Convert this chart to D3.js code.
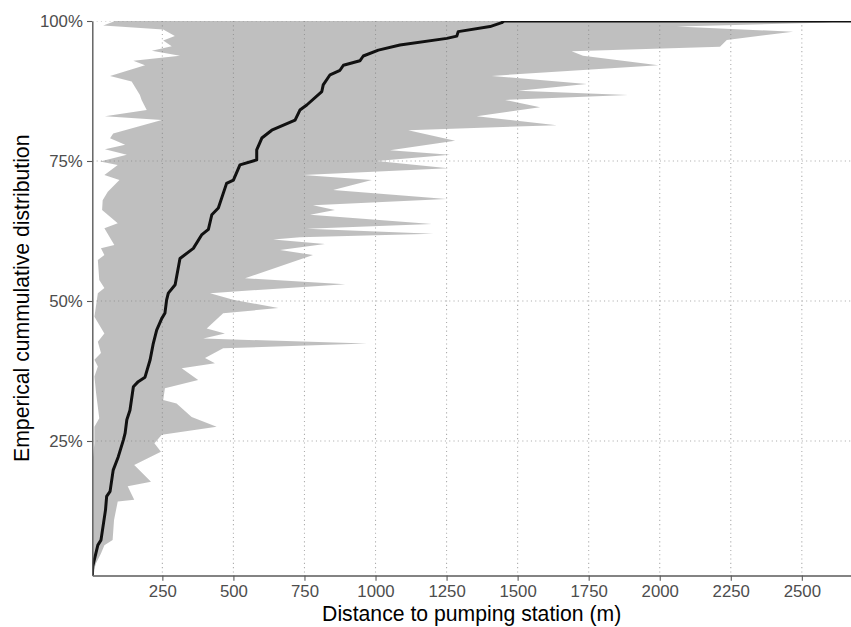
<!DOCTYPE html>
<html>
<head>
<meta charset="utf-8">
<script src="https://cdn.jsdelivr.net/npm/d3@7"></script>
<style>
  html, body { margin: 0; padding: 0; background: #fff; }
  svg text { font-family: "Liberation Sans", Arial, sans-serif; }
</style>
</head>
<body>
<svg id="chart" width="851" height="627"></svg>
<script>
// ---- data (distance in m, probability in %) ----
const xTicks = [250, 500, 750, 1000, 1250, 1500, 1750, 2000, 2250, 2500];
const yTicks = [0.25, 0.5, 0.75, 1];

// empirical CDF line (last point is the +Inf padding at 100%)
const ecdfDist = [4,5,23,34,50,54,66,77,95,113,119,125,136,148,165,189,207,218,230,248,259,265,271,295,312,359,388,412,424,447,476,500,523,582,582,600,635,717,734,758,811,816,840,875,887,945,957,1010,1086,1251,1286,1291,1403,1444,1452,3000];
const ecdfProb = [1.0,2.6,6.4,7.3,12.7,15.1,16.0,19.8,22.2,25.2,26.4,28.8,30.5,34.7,35.6,36.4,39.5,42.4,44.8,46.9,47.8,50.2,51.4,52.9,57.6,59.4,61.8,62.8,65.4,66.6,71.0,71.6,74.3,75.2,77.0,79.1,80.5,82.3,84.1,85.0,87.4,88.6,90.4,91.2,92.1,92.9,93.75,94.8,95.7,96.9,97.3,98.1,99.0,99.7,100,100];

// ribbon upper bound (max distance), top to bottom
const hiProb = [100,99.7,99.0,98.1,96.6,95.4,94.6,93.8,92.1,90.2,88.75,87.55,86.8,85.9,84.6,83.0,81.4,80.5,78.6,76.9,76.1,75.0,73.7,72.5,71.6,69.8,68.2,67.1,66.25,65.4,63.75,62.9,62.0,61.4,61.0,60.2,59.1,58.2,54.05,53.0,51.4,50.2,48.75,47.8,45.1,44.2,43.3,42.4,41.55,39.8,38.9,38.0,35.9,34.4,32.3,31.7,29.3,27.55,26.1,24.6,23.1,20.7,17.7,16.9,14.5,14.2,10.9,7.3,6.4,4.9,3.2,1.0];
const hiDist = [2670,2564,2060,2469,2236,2212,1690,1730,1995,1409,1743,1502,1889,1456,1579,1356,1638,1115,1280,1051,1262,1004,1256,745,987,851,1250,780,857,770,1198,758,1203,734,640,822,664,780,541,893,418,499,658,464,406,470,394,969,464,400,435,318,376,259,253,300,353,441,248,222,245,151,210,128,151,93,80,75,46,34,17,3.5];

// ribbon lower bound (min distance), top to bottom
const loProb = [100,99.2,98.5,97.3,96.5,95.5,94.7,93.8,92.9,92.1,90.2,89.2,86.8,85.9,84.1,83.0,82.3,79.9,79.05,77.9,77.1,76.1,74.9,74.3,72.5,71.6,69.5,68.0,66.25,63.9,63.0,60.0,59.4,58.2,57.3,53.75,52.3,51.4,47.2,44.2,42.7,40.7,39.5,38.3,36.5,33.5,29.05,27.55,24.6,21.6,1.0];
const loDist = [84,42,253,294,253,283,213,312,148,189,66,142,171,177,195,48,248,77,66,119,48,125,31,93,46,99,58,40,38,93,46,81,34,46,23,28,46,23,11,46,23,34,11,23,11,17,28,11,11,5,4];

// ---- layout ----
const panel = { left: 92.3, right: 851, top: 21, bottom: 575.5 };

const svg = d3.select("#chart");
const x = d3.scaleLinear().domain([3.5, 2673]).range([panel.left, panel.right]);
const y = d3.scaleLinear().domain([0.0098, 1]).range([panel.bottom, panel.top]);

svg.append("defs").append("clipPath").attr("id", "clip")
  .append("rect")
  .attr("x", panel.left).attr("y", panel.top)
  .attr("width", panel.right - panel.left).attr("height", panel.bottom - panel.top);

// grid
const grid = svg.append("g").attr("clip-path", "url(#clip)");
grid.selectAll("line.vx").data(xTicks).join("line")
  .attr("x1", d => x(d)).attr("x2", d => x(d))
  .attr("y1", panel.top).attr("y2", panel.bottom)
  .attr("stroke", "#adadad").attr("stroke-width", 1.1)
  .attr("stroke-dasharray", "1.1,3.2");
grid.selectAll("line.hy").data(yTicks).join("line")
  .attr("y1", d => y(d)).attr("y2", d => y(d))
  .attr("x1", panel.left).attr("x2", panel.right)
  .attr("stroke", "#adadad").attr("stroke-width", 1.1)
  .attr("stroke-dasharray", "1.1,3.2");

// ribbon
const hiPts = hiProb.map((p, i) => ({ p: p / 100, d: hiDist[i] }));
const loPts = loProb.map((p, i) => ({ p: p / 100, d: loDist[i] })).reverse();
const poly = hiPts.concat(loPts);
const lineGen = d3.line().x(d => x(d.d)).y(d => y(d.p));
const plot = svg.append("g").attr("clip-path", "url(#clip)");
plot.append("path")
  .attr("d", lineGen(poly) + "Z")
  .attr("fill", "#808080").attr("fill-opacity", 0.5).attr("stroke", "none");

// ecdf line
const ecdfPts = ecdfProb.map((p, i) => ({ p: p / 100, d: ecdfDist[i] }));
plot.append("path")
  .attr("d", lineGen(ecdfPts))
  .attr("fill", "none").attr("stroke", "#111")
  .attr("stroke-width", 3).attr("stroke-linejoin", "round").attr("stroke-linecap", "butt");

// axes
const axisColor = "#5a5a5a";
const gx = svg.append("g").attr("transform", `translate(0,${panel.bottom})`)
  .call(d3.axisBottom(x).tickValues(xTicks).tickSize(5.3).tickSizeOuter(0).tickPadding(4.2).tickFormat(d3.format("d")));
const gy = svg.append("g").attr("transform", `translate(${panel.left},0)`)
  .call(d3.axisLeft(y).tickValues(yTicks).tickSize(5.3).tickSizeOuter(0).tickPadding(4.2).tickFormat(d3.format(".0%")));

[gx, gy].forEach(g => {
  g.select(".domain").attr("stroke", axisColor).attr("stroke-width", 1.4);
  g.selectAll(".tick line").attr("stroke", axisColor).attr("stroke-width", 1.1);
  g.selectAll(".tick text").attr("fill", "#4d4d4d").style("font-size", "16.8px")
    .style("font-family", "'Liberation Sans', Arial, sans-serif");
});

// titles
svg.append("text")
  .attr("x", (panel.left + panel.right) / 2).attr("y", 621)
  .attr("text-anchor", "middle").attr("fill", "#000")
  .style("font-size", "21.2px")
  .text("Distance to pumping station (m)");

svg.append("text")
  .attr("transform", `translate(29,${(panel.top + panel.bottom) / 2}) rotate(-90)`)
  .attr("text-anchor", "middle").attr("fill", "#000")
  .style("font-size", "21.2px")
  .text("Emperical cummulative distribution");
</script>
</body>
</html>
